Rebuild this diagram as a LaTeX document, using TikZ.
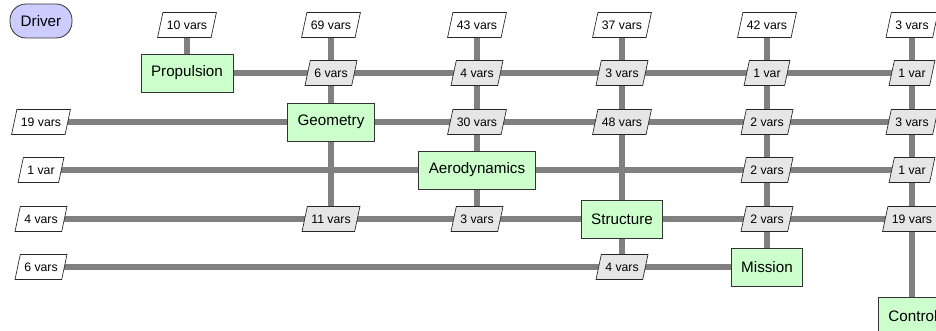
\documentclass[tikz,border=0pt]{standalone}
\usepackage{fontspec}
\setmainfont{Liberation Sans}
\usetikzlibrary{shapes.geometric,backgrounds}

\definecolor{compfill}{HTML}{CCFFCC}
\definecolor{drvfill}{HTML}{CCCCFF}
\definecolor{datafill}{HTML}{E6E6E6}
\definecolor{linkgray}{HTML}{808080}

\tikzset{
  comp/.style={draw=black!80, fill=compfill, line width=0.6pt,
    minimum height=28.5pt, inner xsep=7.5pt,
    font=\fontsize{11.4}{13}\selectfont},
  drv/.style={draw=black!80, fill=drvfill, line width=0.6pt,
    rounded corners=12pt, minimum height=25.5pt, minimum width=46.5pt,
    font=\fontsize{11.4}{13}\selectfont},
  vardata/.style={trapezium, trapezium left angle=78, trapezium right angle=102,
    draw=black!85, line width=0.5pt, fill=datafill,
    inner xsep=3pt, inner ysep=6pt, text height=6.7pt, text depth=0pt,
    font=\fontsize{9.2}{11}\selectfont},
  vardatain/.style={vardata, fill=white},
  link/.style={draw=linkgray, line width=4.5pt}
}

\begin{document}
\begin{tikzpicture}[x=0.75pt, y=-0.75pt]
  \clip (0,0) rectangle (936,331);
  \useasboundingbox (0,0) rectangle (936,331);

  % components on the diagonal
  \node[drv] (drv) at (41,21) {Driver};
  \node[comp] (prop) at (187,73) {Propulsion};
  \node[comp] (geom) at (331,122) {Geometry};
  \node[comp] (aero) at (477,170) {Aerodynamics};
  \node[comp] (struct) at (622,219) {Structure};
  \node[comp] (miss) at (767,267) {Mission};
  \node[comp, anchor=north west] (ctrl) at (878,297) {Control};

  % inputs from the top row
  \node[vardatain] (t1) at (187,25) {10 vars};
  \node[vardatain] (t2) at (331,25) {69 vars};
  \node[vardatain] (t3) at (477,25) {43 vars};
  \node[vardatain] (t4) at (622,25) {37 vars};
  \node[vardatain] (t5) at (767,25) {42 vars};
  \node[vardatain] (t6) at (912,25) {3 vars};

  % inputs from the left column
  \node[vardatain] (s2) at (41,122) {19 vars};
  \node[vardatain] (s3) at (41,170) {1 var};
  \node[vardatain] (s4) at (41,219) {4 vars};
  \node[vardatain] (s5) at (41,267) {6 vars};

  % couplings
  \node[vardata] (d12) at (331,73) {6 vars};
  \node[vardata] (d13) at (477,73) {4 vars};
  \node[vardata] (d14) at (622,73) {3 vars};
  \node[vardata] (d15) at (767,73) {1 var};
  \node[vardata] (d16) at (912,73) {1 var};
  \node[vardata] (d23) at (477,122) {30 vars};
  \node[vardata] (d24) at (622,122) {48 vars};
  \node[vardata] (d25) at (767,122) {2 vars};
  \node[vardata] (d26) at (912,122) {3 vars};
  \node[vardata] (d35) at (767,170) {2 vars};
  \node[vardata] (d36) at (912,170) {1 var};
  \node[vardata] (d42) at (331,219) {11 vars};
  \node[vardata] (d43) at (477,219) {3 vars};
  \node[vardata] (d45) at (767,219) {2 vars};
  \node[vardata] (d46) at (912,219) {19 vars};
  \node[vardata] (d54) at (622,267) {4 vars};

  \begin{pgfonlayer}{background}
    % vertical
    \draw[link] (t1.center) -- (prop.center);
    \draw[link] (t2.center) -- (d42.center);
    \draw[link] (t3.center) -- (d43.center);
    \draw[link] (t4.center) -- (d54.center);
    \draw[link] (t5.center) -- (miss.center);
    \draw[link] (t6.center) -- (d46.center) -- (d46.center |- ctrl.north);
    % horizontal
    \draw[link] (prop.center) -- (d16.center);
    \draw[link] (s2.center) -- (d26.center);
    \draw[link] (s3.center) -- (d36.center);
    \draw[link] (s4.center) -- (d46.center);
    \draw[link] (s5.center) -- (miss.center);
  \end{pgfonlayer}
\end{tikzpicture}
\end{document}
